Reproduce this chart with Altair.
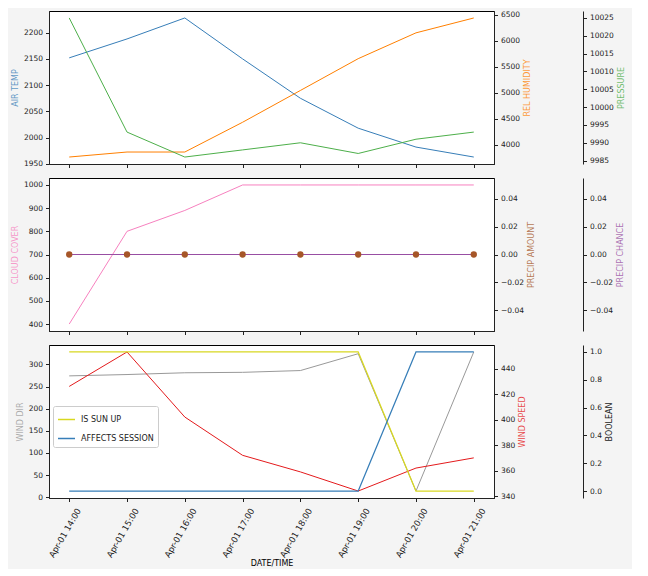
import altair as alt
import pandas as pd

# ---- data ----
times = ["2024-04-01T14:00:00", "2024-04-01T15:00:00", "2024-04-01T16:00:00",
         "2024-04-01T17:00:00", "2024-04-01T18:00:00", "2024-04-01T19:00:00",
         "2024-04-01T20:00:00", "2024-04-01T21:00:00"]
air_temp = [2152, 2188, 2228, 2150, 2075, 2018, 1982, 1963]
rel_humidity = [3765, 3861, 3861, 4433, 5044, 5655, 6151, 6437]
pressure = [10025, 9993, 9986, 9988, 9990, 9987, 9991, 9993]
cloud_cover = [400, 800, 890, 1000, 1000, 1000, 1000, 1000]
precip_amount = [0, 0, 0, 0, 0, 0, 0, 0]
precip_chance = [0, 0, 0, 0, 0, 0, 0, 0]
wind_dir = [274, 277, 281, 282, 286, 324, 14, 328]
wind_speed = [426, 453, 402, 372, 359, 344, 362, 370]
is_sun_up = [1, 1, 1, 1, 1, 1, 0, 0]
affects_session = [0, 0, 0, 0, 0, 0, 1, 1]

ticks_air = [1950, 2000, 2050, 2100, 2150, 2200]
ticks_hum = [4000, 4500, 5000, 5500, 6000, 6500]
ticks_pres = [9985, 9990, 9995, 10000, 10005, 10010, 10015, 10020, 10025]
ticks_cloud = [400, 500, 600, 700, 800, 900, 1000]
ticks_precip = [-0.04, -0.02, 0.0, 0.02, 0.04]
ticks_wdir = [0, 50, 100, 150, 200, 250, 300]
ticks_wspd = [340, 360, 380, 400, 420, 440]
ticks_bool = [0.0, 0.2, 0.4, 0.6, 0.8, 1.0]
hours = [14, 15, 16, 17, 18, 19, 20, 21]

df = pd.DataFrame({
    "time": times,
    "AIR TEMP": air_temp, "REL HUMIDITY": rel_humidity, "PRESSURE": pressure,
    "CLOUD COVER": cloud_cover, "PRECIP AMOUNT": precip_amount,
    "PRECIP CHANCE": precip_chance, "WIND DIR": wind_dir,
    "WIND SPEED": wind_speed, "IS SUN UP": is_sun_up,
    "AFFECTS SESSION": affects_session,
})

BLUE, ORANGE, GREEN = "#377eb8", "#ff7f00", "#4daf4a"
PINK, BROWN, PURPLE = "#f781bf", "#a65628", "#984ea3"
GRAY, RED, YELLOW = "#999999", "#e41a1c", "#d8d820"

W, H = 445, 153
x_domain = [alt.DateTime(year=2024, month=4, date=1, hours=13, minutes=39),
            alt.DateTime(year=2024, month=4, date=1, hours=21, minutes=21)]
x_values = [alt.DateTime(year=2024, month=4, date=1, hours=h) for h in hours]


def xenc(show_labels):
    if show_labels:
        ax = alt.Axis(values=x_values, format="%b-%d %H:%M", labelAngle=-60,
                      labelAlign="right", labelBaseline="middle", labelOffset=9,
                      labelPadding=7, labelFontSize=8.5, title="DATE/TIME",
                      titlePadding=1, grid=False)
    else:
        ax = alt.Axis(values=x_values, labels=False, title=None, grid=False)
    return alt.X("time:T", scale=alt.Scale(domain=x_domain, nice=False), axis=ax)


def yenc(field, domain, values, fmt, color, orient, offset=0, show_axis=True):
    if show_axis:
        kw = dict(values=values, format=fmt, orient=orient, title=field,
                  titleColor=color, titleOpacity=0.8, grid=False, titlePadding=4)
        if orient == "right":
            kw["titleAngle"] = 270
            kw["titleBaseline"] = "top"
        if offset:
            kw["offset"] = offset
        ax = alt.Axis(**kw)
    else:
        ax = None
    return alt.Y(f"{field}:Q", scale=alt.Scale(domain=domain, nice=False, zero=False),
                 axis=ax)


def line(field, domain, values, fmt, color, orient, offset=0, show_x=False):
    return alt.Chart(df).mark_line(color=color, strokeWidth=1).encode(
        x=xenc(show_x),
        y=yenc(field, domain, values, fmt, color, orient, offset),
    )


p1 = alt.layer(
    line("AIR TEMP", [1949.75, 2241.25], ticks_air, "d", BLUE, "left"),
    line("REL HUMIDITY", [3631, 6571], ticks_hum, "d", ORANGE, "right"),
    line("PRESSURE", [9984.05, 10026.95], ticks_pres, "d", GREEN, "right", 89),
).resolve_scale(y="independent").properties(width=W, height=H)

precip_pts = alt.Chart(df).mark_point(filled=True, color=BROWN, size=40, opacity=1).encode(
    x=xenc(False),
    y=yenc("PRECIP AMOUNT", [-0.055, 0.055], ticks_precip, ".2f", BROWN, "right",
           show_axis=False),
)

p2 = alt.layer(
    line("CLOUD COVER", [370, 1030], ticks_cloud, "d", PINK, "left"),
    line("PRECIP AMOUNT", [-0.055, 0.055], ticks_precip, ".2f", BROWN, "right"),
    line("PRECIP CHANCE", [-0.055, 0.055], ticks_precip, ".2f", PURPLE, "right", 89),
    precip_pts,
).resolve_scale(y="independent").properties(width=W, height=H)

bool_layer = alt.Chart(df).transform_fold(
    ["IS SUN UP", "AFFECTS SESSION"], as_=["series", "flag"]
).mark_line(strokeWidth=1.2).encode(
    x=xenc(True),
    y=alt.Y("flag:Q", scale=alt.Scale(domain=[-0.05, 1.05], nice=False, zero=False),
            axis=alt.Axis(values=ticks_bool, format=".1f", orient="right", offset=89,
                          title="BOOLEAN", titleAngle=270, titleBaseline="top",
                          titleColor="#222", grid=False, titlePadding=4)),
    color=alt.Color("series:N",
                    scale=alt.Scale(domain=["IS SUN UP", "AFFECTS SESSION"],
                                    range=[YELLOW, BLUE]),
                    sort=["IS SUN UP", "AFFECTS SESSION"],
                    legend=alt.Legend(title=None, orient="none", legendX=4, legendY=61,
                                      symbolType="stroke", symbolSize=289,
                                      symbolStrokeWidth=1.5, labelFontSize=8,
                                      fillColor="white", strokeColor="#cccccc",
                                      cornerRadius=2, padding=4, rowPadding=5,
                                      labelOffset=5)),
)

p3 = alt.layer(
    line("WIND DIR", [-1.7, 343.7], ticks_wdir, "d", GRAY, "left", show_x=True),
    line("WIND SPEED", [338.55, 458.45], ticks_wspd, "d", RED, "right", show_x=True),
    bool_layer,
).resolve_scale(y="independent").properties(width=W, height=H)

chart = alt.vconcat(p1, p2, p3, spacing=14, bounds="flush").resolve_scale(
    color="independent"
).properties(
    padding={"left": 2, "top": 2, "right": 6, "bottom": 0},
    background="#f4f4f4",
).configure(font="DejaVu Sans").configure_view(
    stroke="black", strokeWidth=1, fill="white"
).configure_axis(
    labelFontSize=7.5, titleFontSize=8, titleFontWeight="normal",
    labelColor="#222", tickColor="#222", domainColor="#222", tickSize=3.5,
    labelPadding=3, domainWidth=1, tickWidth=1,
).configure_legend(labelColor="#222")

chart.save("out.html", embed_options={"renderer": "svg", "actions": False})
